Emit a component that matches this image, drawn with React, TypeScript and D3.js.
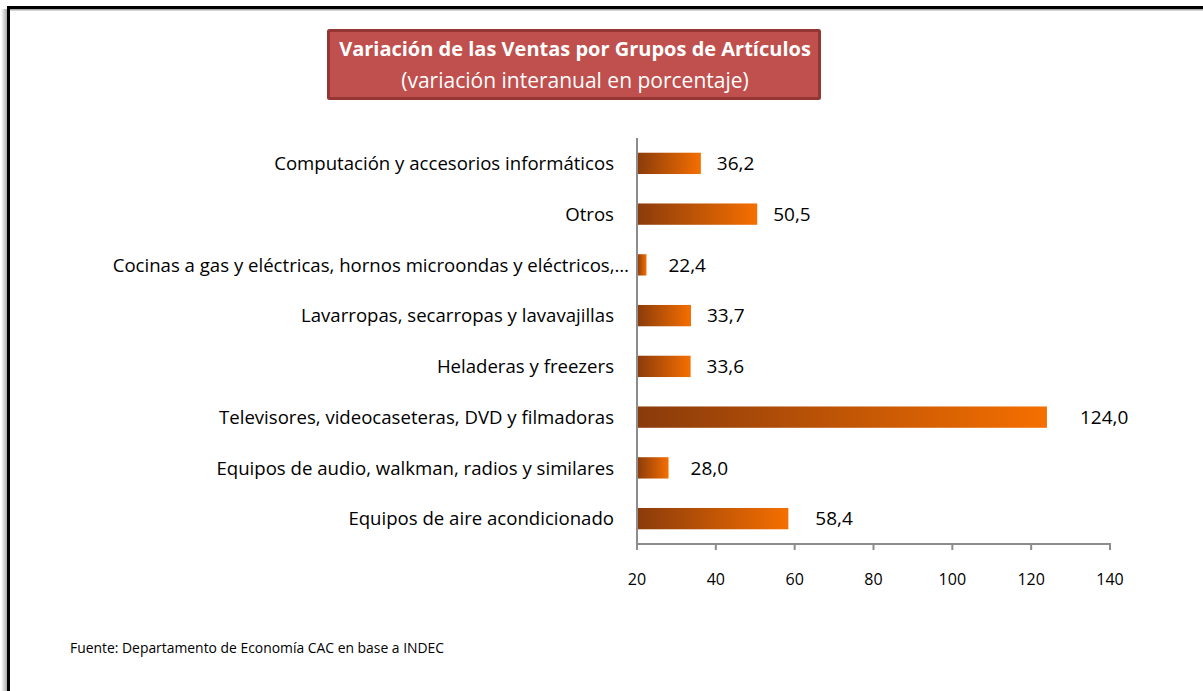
import React, { useEffect, useRef } from "react";
import * as d3 from "d3";

const categories = [
  "Computación y accesorios informáticos",
  "Otros",
  "Cocinas a gas y eléctricas, hornos microondas y eléctricos,…",
  "Lavarropas, secarropas y lavavajillas",
  "Heladeras y freezers",
  "Televisores, videocaseteras, DVD y filmadoras",
  "Equipos de audio, walkman, radios y similares",
  "Equipos de aire acondicionado",
];
const values = [36.2, 50.5, 22.4, 33.7, 33.6, 124.0, 28.0, 58.4];
const valueLabels = ["36,2", "50,5", "22,4", "33,7", "33,6", "124,0", "28,0", "58,4"];
const xTicks = [20, 40, 60, 80, 100, 120, 140];
const labelNudge = [0, 0, 6, 0, 0, 17, 6, 11];

const titleText = "Variación de las Ventas por Grupos de Artículos";
const subtitleText = "(variación interanual en porcentaje)";
const sourceText = "Fuente: Departamento de Economía CAC en base a INDEC";

const FONT = "'Open Sans', sans-serif";

export default function App() {
  const ref = useRef<SVGSVGElement>(null);

  useEffect(() => {
    document.body.style.margin = "0";
    const svg = d3.select(ref.current);
    svg.selectAll("*").remove();

    const W = 1203, H = 691;
    const x = d3.scaleLinear().domain([20, 140]).range([637, 1110]);
    const y = d3.scaleBand().domain(categories).range([138, 544]).paddingInner(0.58).paddingOuter(0.29);

    const defs = svg.append("defs");
    const grad = defs.append("linearGradient").attr("id", "barGrad")
      .attr("x1", "0").attr("x2", "1").attr("y1", "0").attr("y2", "0");
    grad.append("stop").attr("offset", "0%").attr("stop-color", "#8A3B0B");
    grad.append("stop").attr("offset", "100%").attr("stop-color", "#F56F00");

    const shadow = defs.append("linearGradient").attr("id", "shadowGrad")
      .attr("x1", "0").attr("x2", "1").attr("y1", "0").attr("y2", "0");
    shadow.append("stop").attr("offset", "0%").attr("stop-color", "#ffffff");
    shadow.append("stop").attr("offset", "100%").attr("stop-color", "#9a9a9a");

    svg.append("rect").attr("width", W).attr("height", H).attr("fill", "#fff");

    // outer frame
    svg.append("rect").attr("x", 1).attr("y", 9).attr("width", 7).attr("height", H).attr("fill", "url(#shadowGrad)");
    svg.append("rect").attr("x", 9).attr("y", 9).attr("width", W).attr("height", 1.5).attr("fill", "#aaaaaa");
    svg.append("line").attr("x1", 8.5).attr("x2", W + 5).attr("y1", 7.5).attr("y2", 7.5).attr("stroke", "#000").attr("stroke-width", 3);
    svg.append("line").attr("x1", 8.5).attr("x2", 8.5).attr("y1", 6).attr("y2", H + 5).attr("stroke", "#000").attr("stroke-width", 3);

    // title box
    svg.append("rect").attr("x", 328.5).attr("y", 30.5).attr("width", 491).attr("height", 68)
      .attr("fill", "#C0504D").attr("stroke", "#943634").attr("stroke-width", 3).attr("rx", 1);
    svg.append("text").attr("x", 575).attr("y", 56).attr("text-anchor", "middle")
      .attr("font-family", FONT).attr("font-weight", "bold").attr("font-size", 20).attr("fill", "#fff").text(titleText);
    svg.append("text").attr("x", 575).attr("y", 88).attr("text-anchor", "middle")
      .attr("font-family", FONT).attr("font-size", 21).attr("fill", "#fff").text(subtitleText);

    // bars
    const g = svg.append("g");
    g.selectAll("rect.bar").data(values).join("rect").attr("class", "bar")
      .attr("x", x(20)).attr("y", (_, i) => y(categories[i])!)
      .attr("width", (d) => x(d) - x(20)).attr("height", y.bandwidth())
      .attr("fill", "url(#barGrad)");

    // value labels
    g.selectAll("text.val").data(values).join("text").attr("class", "val")
      .attr("x", (d, i) => x(d) + 16 + labelNudge[i])
      .attr("y", (_, i) => y(categories[i])! + y.bandwidth() / 2)
      .attr("dy", "0.36em").attr("font-family", FONT).attr("font-size", 19).attr("fill", "#000")
      .text((_, i) => valueLabels[i]);

    // category labels (truncated labels run closer to the axis)
    g.selectAll("text.cat").data(categories).join("text").attr("class", "cat")
      .attr("x", (d) => (d.endsWith("…") ? 629 : 614)).attr("y", (d) => y(d)! + y.bandwidth() / 2)
      .attr("dy", "0.36em").attr("text-anchor", "end").attr("font-family", FONT).attr("font-size", 18.6).attr("fill", "#000")
      .text((d) => d);

    // axes
    const axisColor = "#8c8c8c";
    svg.append("line").attr("x1", 637).attr("x2", 637).attr("y1", 138).attr("y2", 545)
      .attr("stroke", axisColor).attr("stroke-width", 2);
    svg.append("line").attr("x1", 636).attr("x2", 1111).attr("y1", 544).attr("y2", 544)
      .attr("stroke", axisColor).attr("stroke-width", 2);
    svg.selectAll("line.tick").data(xTicks).join("line").attr("class", "tick")
      .attr("x1", (d) => x(d)).attr("x2", (d) => x(d)).attr("y1", 544).attr("y2", 550)
      .attr("stroke", axisColor).attr("stroke-width", 2);
    svg.selectAll("text.tick").data(xTicks).join("text").attr("class", "tick")
      .attr("x", (d) => x(d)).attr("y", 585).attr("text-anchor", "middle")
      .attr("font-family", FONT).attr("font-size", 16).attr("fill", "#000").text((d) => d);

    // source
    svg.append("text").attr("x", 70).attr("y", 653).attr("font-family", FONT).attr("font-size", 13.9)
      .attr("fill", "#000").text(sourceText);
  }, []);

  return <svg ref={ref} width={1203} height={691} style={{ display: "block" }} />;
}
